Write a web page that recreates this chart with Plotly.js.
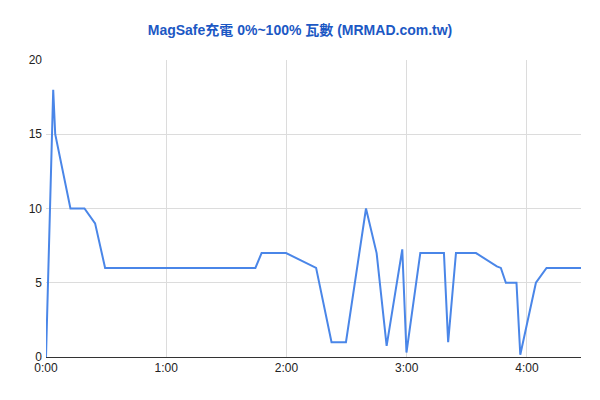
<!DOCTYPE html>
<html>
<head>
<meta charset="utf-8">
<script src="https://cdn.plot.ly/plotly-3.0.1.min.js"></script>
<style>html,body{margin:0;padding:0;background:#fff;}#chart{width:600px;height:400px;}</style>
</head>
<body>
<div id="chart"></div>
<script>
// time in seconds since start
const seconds = [0, 3.6, 4.6, 12.2, 19.2, 24.5, 29.5, 104.5, 107.6, 119.8, 134.8, 142.5, 149.7, 159.7, 165, 170, 177.8, 179.9, 186.8, 198.6, 200.7, 204.6, 214.6, 225, 227, 229.5, 234.8, 236.7, 244.5, 249.8, 267];
const watts   = [0, 18, 15, 10, 10, 9, 6, 6, 7, 7, 6, 1, 1, 10, 7, 0.75, 7.25, 0.3, 7, 7, 1, 7, 7, 6.1, 6, 5, 5, 0.15, 5, 6, 6];
const tickSeconds = [0, 60, 120, 180, 240];
const tickLabels = ["0:00", "1:00", "2:00", "3:00", "4:00"];
const yTicks = [0, 5, 10, 15, 20];
const titleText = "MagSafe充電 0%~100% 瓦數 (MRMAD.com.tw)";

const trace = {
  x: seconds, y: watts, type: "scatter", mode: "lines",
  line: {color: "#4a86e8", width: 2},
  hoverinfo: "x+y"
};
const layout = {
  width: 600, height: 400,
  margin: {l: 46, r: 19, t: 60, b: 43},
  paper_bgcolor: "#fff", plot_bgcolor: "#fff",
  showlegend: false,
  title: {text: "<b>" + titleText + "</b>", x: 0.5, xanchor: "center", y: 0.925, yanchor: "middle",
    font: {family: "Arial, 'Liberation Sans', 'Noto Sans CJK TC', sans-serif", size: 14, color: "#1c58c4"}},
  xaxis: {range: [0, 267], tickvals: tickSeconds, ticktext: tickLabels,
    showgrid: true, gridcolor: "#dcdcdc", gridwidth: 1, zeroline: false,
    showline: true, linecolor: "#333", linewidth: 1, ticks: "",
    tickfont: {family: "Arial, 'Liberation Sans', sans-serif", size: 12, color: "#222"}},
  yaxis: {range: [0, 20], tickvals: yTicks, showgrid: true, gridcolor: "#dcdcdc", gridwidth: 1,
    zeroline: false, showline: false, ticks: "", ticklabelstandoff: 3,
    tickfont: {family: "Arial, 'Liberation Sans', sans-serif", size: 12, color: "#222"}}
};
Plotly.newPlot("chart", [trace], layout, {displayModeBar: false, staticPlot: true});
</script>
</body>
</html>
